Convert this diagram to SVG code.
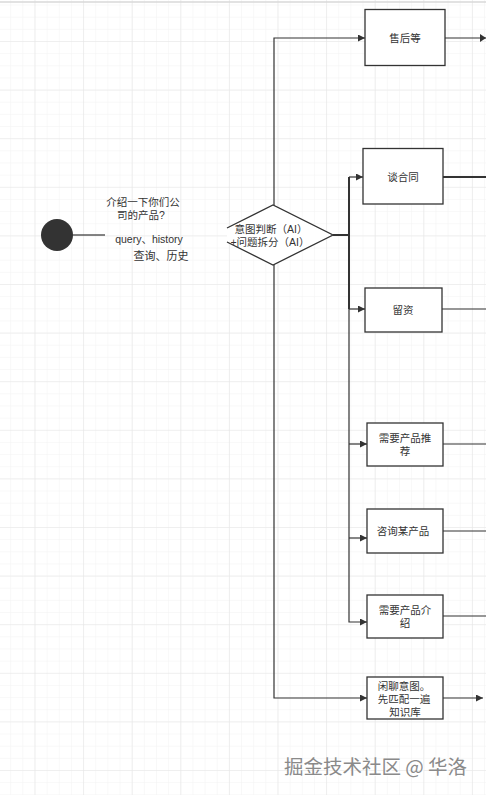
<svg xmlns="http://www.w3.org/2000/svg" width="486" height="795" viewBox="0 0 486 795">
<defs>
<pattern id="minor" patternUnits="userSpaceOnUse" x="34.5" y="41" width="12.15" height="12.15">
<path d="M0,0 V12.15 M0,0 H12.15" fill="none" stroke="#f2f2f2" stroke-width="1"/>
</pattern>
<pattern id="major" patternUnits="userSpaceOnUse" x="34.5" y="41" width="48.6" height="48.6">
<path d="M0,0 V48.6 M0,0 H48.6" fill="none" stroke="#e6e6e6" stroke-width="1.2"/>
</pattern>
<marker id="arr" viewBox="0 0 10 10" refX="10" refY="5" markerWidth="9" markerHeight="7" markerUnits="userSpaceOnUse" orient="auto">
<path d="M0,0 L10,5 L0,10 z" fill="#333"/>
</marker>
<style>
.box{fill:#fff;stroke:#333;stroke-width:1.3}
.ln{fill:none;stroke:#333;stroke-width:1.2}
.thick{fill:none;stroke:#333;stroke-width:2}
.t{font-family:"Liberation Sans","Noto Sans CJK SC",sans-serif;font-size:10.5px;fill:#333;text-anchor:middle}
</style>
</defs>
<rect width="486" height="795" fill="#fff"/>
<rect width="486" height="795" fill="url(#minor)"/>
<rect width="486" height="795" fill="url(#major)"/>
<line x1="0" y1="2" x2="486" y2="2" stroke="#d8d8d8" stroke-width="1.5"/>

<g id="connectors">
<line class="ln" x1="73" y1="235" x2="105" y2="235"/>
<polyline class="ln" points="274,205 274,38 365,38" marker-end="url(#arr)"/>
<polyline class="ln" points="274,265 274,698 367,698" marker-end="url(#arr)"/>
<polyline class="thick" points="333,235 349,235"/>
<polyline class="thick" points="349,235 349,177"/>
<polyline class="ln" points="349,177 363,177" marker-end="url(#arr)"/>
<polyline class="thick" points="349,235 349,309"/>
<polyline class="ln" points="349,309 365,309" marker-end="url(#arr)"/>
<polyline class="ln" points="349,309 349,622 367,622" marker-end="url(#arr)"/>
<line class="ln" x1="349" y1="444" x2="367" y2="444" marker-end="url(#arr)"/>
<line class="ln" x1="349" y1="538" x2="367" y2="538" marker-end="url(#arr)"/>
<line class="ln" x1="445" y1="38" x2="486" y2="38"/>
<path d="M480,34 L486,38 L480,42 z" fill="#333"/>
<line class="thick" x1="443" y1="177" x2="486" y2="177"/>
<line class="ln" x1="442" y1="309" x2="486" y2="309"/>
<line class="ln" x1="443" y1="444" x2="486" y2="444"/>
<line class="ln" x1="443" y1="531" x2="486" y2="531"/>
<line class="ln" x1="443" y1="616" x2="486" y2="616"/>
<line class="ln" x1="443" y1="698" x2="483" y2="698" marker-end="url(#arr)"/>
</g>

<g id="start">
<circle cx="57" cy="235" r="16" fill="#333"/>
</g>
<g id="label-query">
<text class="t" x="143" y="206">介绍一下你们公</text>
<text class="t" x="141" y="219">司的产品?</text>
<text class="t" x="149" y="243">query、history</text>
<text class="t" x="161" y="260" style="font-size:11px">查询、历史</text>
</g>
<g id="decision">
<path d="M227,228 L273,205 L333,235 L273,265 L227,242" fill="#fff" stroke="#333" stroke-width="1.3"/>
<text class="t" x="271" y="233">意图判断（AI）</text>
<text class="t" x="270" y="246">+问题拆分（AI）</text>
</g>
<g id="n-shouhou">
<rect class="box" x="365" y="9.5" width="80" height="56"/>
<text class="t" x="405" y="42">售后等</text>
</g>
<g id="n-tanhetong">
<rect class="box" x="363" y="148.5" width="80" height="55.5"/>
<text class="t" x="403" y="181">谈合同</text>
</g>
<g id="n-liuzi">
<rect class="box" x="365" y="288" width="77" height="44"/>
<text class="t" x="403" y="314">留资</text>
</g>
<g id="n-tuijian">
<rect class="box" x="367" y="423" width="76" height="43"/>
<text class="t" x="405" y="442">需要产品推</text>
<text class="t" x="405" y="455">荐</text>
</g>
<g id="n-zixun">
<rect class="box" x="367" y="509" width="76" height="44"/>
<text class="t" x="403" y="535">咨询某产品</text>
</g>
<g id="n-jieshao">
<rect class="box" x="367" y="595" width="76" height="43"/>
<text class="t" x="405" y="614">需要产品介</text>
<text class="t" x="405" y="627">绍</text>
</g>
<g id="n-xianliao">
<rect class="box" x="367" y="677" width="76" height="42"/>
<text class="t" x="404" y="690">闲聊意图。</text>
<text class="t" x="404" y="703">先匹配一遍</text>
<text class="t" x="405" y="716">知识库</text>
</g>
<g id="watermark">
<text x="376.5" y="775" style="font-family:'Noto Sans CJK SC',sans-serif;font-size:19.5px;fill:#fff;text-anchor:middle">掘金技术社区 @ 华洛</text>
<text x="375.5" y="774" style="font-family:'Noto Sans CJK SC',sans-serif;font-size:19.5px;fill:#8a8a8a;text-anchor:middle">掘金技术社区 @ 华洛</text>
</g>
</svg>
